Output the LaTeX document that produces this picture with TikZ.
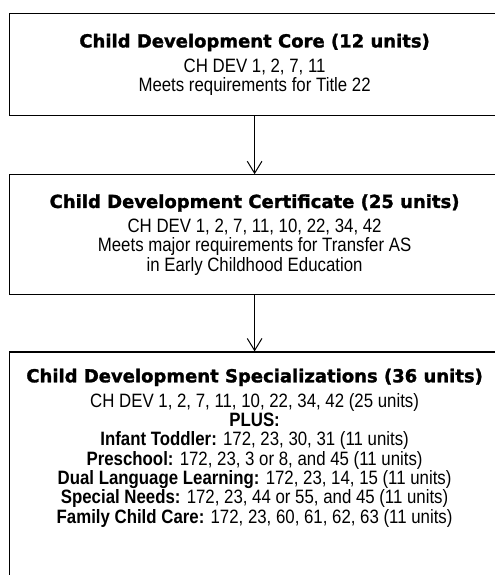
\documentclass[tikz,border=0pt]{standalone}
\usepackage{fontspec}
\setmainfont{Liberation Sans}[FakeStretch=0.87]
\newfontfamily\headfont{DejaVu Sans}[BoldFeatures={FakeBold=1.5}]
\usetikzlibrary{positioning}
\usetikzlibrary{arrows.meta}

\newcommand{\boxhead}[1]{{\headfont\bfseries\fontsize{13.5}{13.5}\selectfont #1}\\[4pt]}

\begin{document}
\begin{tikzpicture}[x=0.75pt,y=-0.75pt,node distance=43.5pt,
			thick,main box/.style={rectangle,draw,line width=0.9pt,
				minimum width=367.5pt,inner sep=0pt,align=center,
				font=\fontsize{14.5}{14.5}\selectfont}]
			\useasboundingbox (0,0) rectangle (495,575);
			\clip (0,0) rectangle (495,575);
			
			\node[main box,minimum height=76.5pt,anchor=north west] (core) at (9,13)
				{\boxhead{Child Development Core (12 units)}
				CH DEV 1, 2, 7, 11\\
				Meets requirements for Title 22};
			\node[main box,minimum height=90pt] (cert) [below=of core]
				{\boxhead{Child Development Certificate (25 units)}
				CH DEV 1, 2, 7, 11, 10, 22, 34, 42\\
				Meets major requirements for Transfer AS\\
				in Early Childhood Education};
			\node[main box,inner ysep=12.5pt,text depth=200pt] (spec) [below=42pt of cert]
				{\boxhead{Child Development Specializations (36 units)}
				CH DEV 1, 2, 7, 11, 10, 22, 34, 42 (25 units)\\
				\textbf{PLUS:}\\
				\textbf{Infant Toddler:} 172, 23, 30, 31 (11 units)\\
				\textbf{Preschool:} 172, 23, 3 or 8, and 45 (11 units)\\
				\textbf{Dual Language Learning:} 172, 23, 14, 15 (11 units)\\
				\textbf{Special Needs:} 172, 23, 44 or 55, and 45 (11 units)\\
				\textbf{Family Child Care:} 172, 23, 60, 61, 62, 63 (11 units)};
			\path[-{Straight Barb[length=9pt,width=11pt]},line width=0.75pt]
			(core) edge (cert)
			(cert) edge (spec);
		\end{tikzpicture}
\end{document}
